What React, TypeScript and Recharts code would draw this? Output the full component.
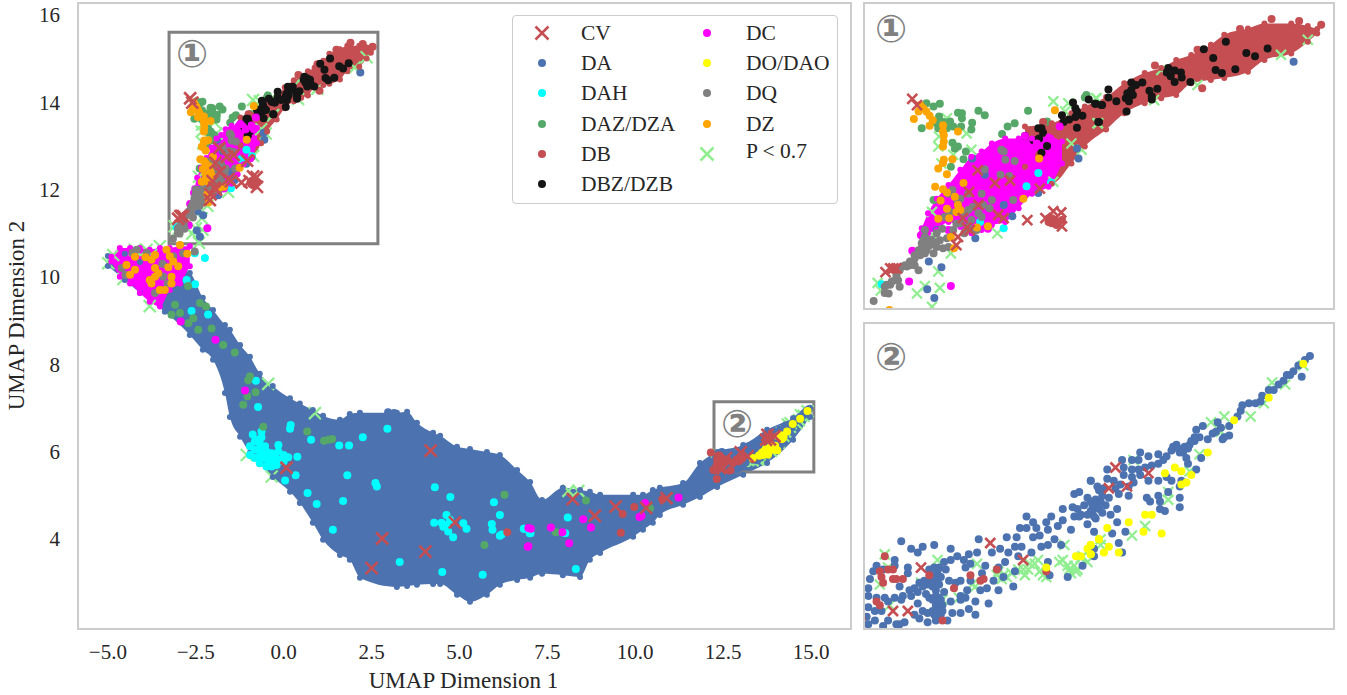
import * as React from 'react'
import { Area, ComposedChart, ReferenceArea, Scatter, XAxis, YAxis } from 'recharts'

type Pt = [number, number]
type Band = [number, number, number]

const xTicks = [-5, -2.5, 0, 2.5, 5, 7.5, 10, 12.5, 15]
const yTicks = [4, 6, 8, 10, 12, 14, 16]

// envelope of the dense clouds: x, lower y, upper y
const daBand: Band[] = [
	[-5.0, 10.25, 10.48], [-4.52, 9.93, 10.53], [-4.09, 9.63, 10.34], [-3.38, 9.2, 10.27], [-2.67, 8.67, 10.09],
	[-2.3, 8.33, 9.52], [-2.01, 8.1, 9.24], [-1.67, 7.34, 8.9], [-1.53, 6.79, 8.79], [-1.24, 6.34, 8.44],
	[-0.96, 5.97, 8.17], [-0.68, 5.74, 7.78], [-0.31, 5.42, 7.5], [0.18, 5.08, 7.22], [0.46, 4.82, 7.1],
	[0.83, 4.37, 6.95], [1.12, 3.98, 6.82], [1.6, 3.63, 6.73], [1.88, 3.52, 6.86], [2.17, 3.11, 6.89],
	[3.22, 2.9, 6.89], [3.51, 2.92, 6.91], [3.79, 2.95, 6.66], [4.25, 2.97, 6.43], [4.45, 2.97, 6.36],
	[4.93, 2.72, 6.11], [5.3, 2.56, 6.06], [5.78, 2.72, 5.99], [6.15, 2.95, 5.92], [6.64, 3.06, 5.58],
	[7.01, 3.11, 5.3], [7.35, 3.2, 4.89], [7.94, 3.17, 5.17], [8.43, 3.13, 5.12], [8.71, 3.52, 5.08],
	[9.0, 3.68, 5.01], [9.94, 4.05, 5.01], [10.22, 4.21, 5.01], [10.5, 4.37, 5.12], [10.7, 4.55, 5.17],
	[11.36, 4.78, 5.28], [11.84, 4.96, 5.74], [12.33, 5.19, 5.99], [13.07, 5.47, 6.15], [13.75, 5.74, 6.5],
	[14.49, 6.27, 6.77], [14.97, 6.79, 7.0],
]
const dbBand: Band[] = [
	[-1.23, 13.01, 13.65], [-0.89, 12.74, 13.7], [-0.64, 13.06, 13.86], [-0.47, 13.33, 13.97], [-0.2, 13.6, 14.12],
	[0.03, 13.86, 14.34], [0.29, 14.02, 14.5], [0.5, 14.1, 14.58], [0.69, 14.15, 14.71], [0.88, 14.34, 14.79],
	[1.13, 14.39, 14.95], [1.3, 14.42, 15.11], [1.6, 14.52, 15.21], [1.81, 14.71, 15.29], [2.15, 14.81, 15.29],
	[2.36, 15.0, 15.25], [2.48, 15.13, 15.2],
]
const dcBand: Band[] = [
	[-4.9, 10.35, 10.46], [-4.66, 10.0, 10.66], [-4.37, 9.85, 10.66], [-4.09, 9.63, 10.66], [-3.81, 9.43, 10.62],
	[-3.52, 9.32, 10.66], [-3.24, 9.7, 10.66], [-2.95, 9.85, 10.7], [-2.67, 10.24, 10.7],
]
const dcUpperBand: Band[] = [
	[-2.54, 11.95, 12.03], [-2.46, 11.95, 12.27], [-2.35, 12.0, 12.5], [-2.2, 12.13, 12.72], [-2.05, 12.05, 12.96],
	[-1.91, 11.95, 13.17], [-1.78, 12.0, 13.25], [-1.65, 12.08, 13.38], [-1.48, 12.13, 13.46], [-1.31, 12.35, 13.46],
	[-1.14, 12.58, 13.46], [-0.93, 12.69, 13.49], [-0.76, 13.06, 13.41],
]

const cv: Pt[] = [
	[4.18, 6.02], [0.08, 5.63], [2.8, 4.01], [4.03, 3.71], [2.5, 3.33], [4.87, 4.38], [8.22, 4.91], [8.85, 4.53],
	[9.44, 4.74], [10.31, 4.71], [10.89, 4.93], [13.0, 5.98], [12.58, 5.85], [13.2, 5.89], [12.41, 5.62], [12.5, 5.62],
	[13.76, 6.38], [13.96, 6.35], [13.72, 6.27], [13.83, 6.28], [-2.66, 14.09], [-2.6, 13.99], [-2.9, 11.39],
	[-2.94, 11.39], [-2.86, 11.39], [-1.83, 12.95], [-1.61, 12.75], [-1.42, 12.79], [-1.94, 12.61], [-1.82, 12.4],
	[-1.57, 12.24], [-1.5, 12.19], [-2.02, 12.19], [-1.97, 12.04], [-2.08, 11.89], [-2.1, 11.76], [-1.93, 12.0],
	[-1.2, 12.16], [-0.97, 12.19], [-0.77, 12.28], [-0.76, 12.06], [-1.04, 12.66], [-3.0, 11.33], [-0.87, 12.3],
]
const da: Pt[] = [
	[12.46, 5.99], [12.52, 5.95], [12.56, 5.93], [12.59, 5.96], [12.66, 5.97], [12.76, 5.95], [12.87, 5.92], [12.92, 5.93],
	[12.93, 6.0], [13.1, 6.01], [13.16, 6.01], [13.06, 5.95], [13.01, 5.93], [13.15, 5.96], [13.19, 5.96], [13.11, 5.93],
	[13.17, 5.91], [13.25, 5.93], [13.31, 5.96], [13.35, 5.97], [13.26, 6.01], [13.18, 6.06], [13.22, 6.06], [13.22, 6.12],
	[13.26, 6.09], [13.28, 6.06], [13.3, 6.02], [13.34, 6.09], [13.37, 6.12], [13.35, 6.05], [13.39, 6.0], [13.43, 5.97],
	[13.41, 6.07], [13.44, 6.1], [13.44, 6.16], [13.49, 6.05], [13.5, 6.17], [13.51, 6.24], [13.54, 6.25], [13.61, 6.31],
	[13.55, 6.13], [13.59, 6.08], [13.61, 6.15], [13.64, 6.11], [13.59, 6.22], [13.63, 6.2], [13.66, 6.26], [13.51, 6.12],
	[13.57, 6.18], [13.66, 6.16], [13.47, 5.8], [13.56, 5.86], [13.35, 5.88], [13.36, 5.81], [13.14, 5.75], [13.08, 5.8],
	[13.15, 5.83], [13.02, 5.78], [13.05, 5.73], [13.09, 5.88], [13.05, 5.85], [12.97, 5.86], [12.95, 5.82], [12.26, 5.74],
	[12.27, 5.79], [12.31, 5.86], [12.29, 5.83], [12.35, 5.84], [12.42, 5.89], [12.42, 5.86], [12.5, 5.85], [12.5, 5.82],
	[12.45, 5.75], [12.51, 5.73], [12.54, 5.74], [12.57, 5.77], [12.6, 5.78], [12.63, 5.84], [12.66, 5.85], [12.69, 5.85],
	[12.64, 5.78], [12.67, 5.78], [12.7, 5.8], [12.73, 5.84], [12.72, 5.88], [12.76, 5.89], [12.8, 5.91], [12.84, 5.89],
	[12.85, 5.85], [12.88, 5.87], [12.82, 5.78], [12.79, 5.77], [12.88, 5.78], [12.86, 5.73], [12.82, 5.7], [12.94, 5.73],
	[12.98, 5.74], [12.91, 5.67], [12.99, 5.66], [12.87, 5.63], [12.91, 5.6], [12.85, 5.69], [12.77, 5.61], [12.82, 5.61],
	[12.74, 5.57], [12.67, 5.57], [12.62, 5.61], [12.59, 5.62], [12.56, 5.66], [12.63, 5.69], [12.67, 5.73], [12.69, 5.69],
	[12.72, 5.72], [12.71, 5.65], [12.67, 5.65], [12.65, 5.62], [12.7, 5.6], [12.62, 5.56], [12.57, 5.58], [12.54, 5.6],
	[12.48, 5.56], [12.45, 5.55], [12.43, 5.55], [12.38, 5.57], [12.34, 5.62], [12.3, 5.62], [12.26, 5.64], [12.25, 5.59],
	[12.26, 5.55], [12.3, 5.57], [12.35, 5.54], [12.36, 5.69], [12.31, 5.69], [12.26, 5.7], [12.38, 5.67], [12.42, 5.69],
	[12.47, 5.7], [12.46, 5.68], [12.52, 5.7], [12.56, 5.72], [12.61, 5.71], [12.65, 5.75], [12.75, 5.78], [12.76, 5.67],
	[12.82, 5.68], [14.94, 6.97], [14.91, 6.95], [14.87, 6.92], [14.84, 6.89], [14.82, 6.87], [14.8, 6.87], [14.78, 6.84],
	[14.75, 6.82], [14.72, 6.79], [14.69, 6.79], [14.89, 6.86], [14.65, 6.76], [14.64, 6.73], [14.61, 6.72], [14.57, 6.72],
	[14.53, 6.71], [14.52, 6.68], [14.5, 6.65], [14.45, 6.6], [14.45, 6.55], [14.42, 6.54], [14.41, 6.53], [14.4, 6.59],
	[14.38, 6.62], [14.37, 6.57], [14.35, 6.56], [14.32, 6.53], [14.29, 6.6], [14.25, 6.58], [14.27, 6.54], [14.24, 6.52],
	[14.21, 6.5], [14.18, 6.49], [14.13, 6.5], [14.15, 6.46], [14.1, 6.47], [14.07, 6.44], [14.28, 6.43], [14.19, 6.43],
	[14.02, 6.45], [14.05, 6.42], [14.02, 6.4], [13.96, 6.44], [13.91, 6.46], [13.98, 6.39], [13.94, 6.38], [13.9, 6.37],
	[13.9, 6.42], [13.86, 6.42], [13.8, 6.42], [13.81, 6.38], [13.86, 6.37], [13.71, 6.37], [13.86, 6.33], [13.81, 6.34],
	[13.91, 6.34], [13.96, 6.31], [13.71, 6.32], [13.75, 6.31], [13.79, 6.29], [13.87, 6.3], [13.84, 6.28], [13.84, 6.23],
	[13.76, 6.27], [13.78, 6.24], [13.65, 6.28], [13.69, 6.27], [13.72, 6.22], [13.68, 6.23], [13.64, 6.21], [13.61, 6.2],
	[13.65, 6.18], [13.62, 6.15], [13.68, 6.14], [13.73, 6.13], [13.77, 6.16], [13.61, 6.31], [13.63, 6.12], [14.02, 6.31],
	[14.1, 6.31], [14.07, 6.33], [14.16, 6.31], [14.15, 6.28], [14.25, 6.37], [14.2, 6.4], [14.08, 6.25], [14.15, 6.22],
	[14.15, 6.17], [14.02, 6.23], [13.95, 6.22], [13.97, 6.2], [14.03, 6.2], [14.03, 6.16], [14.06, 6.15], [13.77, 6.09],
	[13.63, 6.04], [13.74, 6.03], [13.82, 6.04], [13.78, 5.98], [13.8, 5.93], [13.63, 5.95], [13.63, 5.91], [-1.9, 13.14],
	[-0.57, 13.3], [-2.29, 11.41], [-2.47, 11.06], [-2.38, 10.92], [-1.39, 12.22], [-1.06, 12.59], [-0.55, 13.14],
	[-1.5, 12.4], [-1.74, 12.88], [-1.86, 11.87], [-2.35, 12.0], [2.18, 14.68], [-2.45, 11.5], [2.97, 6.9], [3.14, 6.88],
	[12.65, 5.81], [12.68, 5.83], [12.69, 5.8], [12.66, 5.77], [12.69, 5.76], [12.62, 5.76], [12.59, 5.75], [12.67, 5.7],
	[12.65, 5.68], [12.68, 5.67], [12.7, 5.68], [12.69, 5.63], [12.71, 5.62], [12.66, 5.6], [13.53, 6.16], [13.54, 6.12],
	[13.59, 6.13], [13.62, 6.18], [13.65, 6.2], [14.11, 6.49], [14.14, 6.48], [14.17, 6.46], [14.2, 6.48], [14.22, 6.52],
	[14.24, 6.54], [13.67, 6.2], [13.7, 6.18],
]
const dah: Pt[] = [
	[-0.79, 7.62], [-0.73, 7.02], [-0.88, 6.39], [-0.63, 6.46], [0.2, 6.61], [0.18, 6.52], [0.78, 6.27], [1.58, 6.14],
	[1.86, 6.14], [2.25, 6.33], [2.95, 6.52], [0.39, 5.88], [0.34, 5.46], [0.04, 5.34], [1.81, 5.46], [2.61, 5.28],
	[2.65, 5.2], [0.68, 5.05], [0.94, 4.8], [1.69, 4.87], [1.4, 4.21], [4.3, 5.18], [4.74, 4.96], [5.98, 4.84],
	[6.15, 4.55], [5.92, 4.34], [5.94, 4.21], [6.15, 4.07], [3.3, 3.47], [4.51, 3.24], [5.66, 3.18], [6.83, 4.23],
	[7.0, 4.13], [4.63, 4.55], [4.28, 4.37], [4.49, 4.37], [4.63, 4.32], [4.54, 4.28], [4.68, 4.17], [4.82, 4.04],
	[5.11, 4.36], [5.2, 4.23], [4.73, 4.44], [-0.96, 6.12], [-0.82, 6.23], [-0.68, 6.19], [-0.53, 6.12], [-0.82, 6.04],
	[-0.68, 6.04], [-0.49, 6.0], [-0.34, 5.96], [-0.15, 6.15], [-0.15, 6.0], [0.0, 5.92], [0.13, 5.87], [-0.96, 5.92],
	[-0.82, 5.85], [-0.68, 5.89], [-0.53, 5.85], [-0.34, 5.81], [-0.15, 5.81], [0.0, 5.77], [-0.68, 5.73], [-0.49, 5.66],
	[-0.34, 5.66], [-0.2, 5.69], [-0.72, 6.27], [-0.63, 6.33], [-0.49, 5.89], [-0.25, 5.89], [-0.58, 5.96], [-0.44, 5.77],
	[-2.52, 9.83], [-2.15, 9.14], [-2.62, 9.22], [-2.24, 10.43], [-2.53, 10.54], [-2.76, 9.93], [8.08, 4.49], [8.31, 3.31],
	[6.84, 4.23], [7.02, 4.13], [8.01, 4.13], [6.2, 4.1], [-1.5, 12.03], [-1.8, 12.13], [-0.9, 12.76], [-1.21, 12.7],
	[-1.06, 12.91], [-3.05, 11.14],
]
const daz: Pt[] = [
	[-2.48, 14.02], [-2.39, 13.97], [-2.31, 14.01], [-2.08, 13.87], [-2.03, 13.86], [-2.03, 13.78], [-1.82, 13.9],
	[-1.74, 13.83], [-1.9, 13.71], [-1.91, 13.6], [-2.04, 13.65], [-2.32, 13.81], [-2.35, 13.7], [-2.26, 13.72],
	[-2.18, 13.73], [-2.33, 13.62], [-2.22, 13.62], [-2.14, 13.65], [-2.54, 13.62], [-1.36, 13.7], [-1.45, 13.65],
	[-1.52, 13.53], [-1.19, 13.9], [-0.95, 13.73], [-0.47, 14.11], [-0.45, 14.15], [-2.15, 13.39], [-2.08, 13.33],
	[-2.12, 13.3], [-1.98, 13.25], [-2.01, 13.13], [-2.17, 13.01], [-2.39, 12.48], [-2.72, 9.79], [-3.09, 9.36],
	[-3.19, 9.13], [-2.95, 9.17], [-2.57, 9.05], [-2.71, 8.94], [-2.43, 8.79], [-2.05, 8.82], [-1.72, 8.44], [-2.38, 9.4],
	[-2.21, 9.32], [-1.39, 8.27], [-0.96, 7.72], [-1.01, 7.63], [-0.8, 7.36], [-1.03, 7.26], [-1.15, 7.07], [-0.58, 6.57],
	[0.67, 6.46], [1.15, 6.25], [1.27, 6.27], [1.38, 6.29], [6.28, 5.01], [5.71, 3.86], [8.6, 4.88], [7.74, 4.15],
	[10.42, 4.7],
]
const db: Pt[] = [
	[12.36, 5.91], [12.33, 5.83], [12.34, 5.8], [12.35, 5.77], [12.38, 5.84], [12.41, 5.84], [12.41, 5.79], [12.43, 5.79],
	[12.47, 5.79], [12.63, 5.81], [12.88, 5.81], [12.78, 5.74], [12.94, 5.78], [12.96, 5.79], [13.04, 5.84], [12.31, 5.67],
	[12.33, 5.65], [12.71, 5.57], [13.34, 5.83], [12.15, 5.98], [12.22, 5.58], [12.32, 5.37], [9.64, 4.57], [9.97, 4.73],
	[9.59, 4.14], [10.77, 4.91], [6.36, 4.15], [-0.93, 12.19], [-0.89, 12.19], [-0.85, 12.16], [-0.81, 12.13],
	[-0.89, 12.11], [-0.83, 12.08], [-0.93, 12.13], [-0.76, 12.16], [2.53, 15.27], [1.02, 14.26], [0.96, 14.87],
	[0.42, 14.62], [1.5, 15.2], [1.9, 15.36], [2.25, 15.33], [-1.05, 13.2], [-1.0, 13.72],
]
const dbz: Pt[] = [
	[1.04, 14.88], [1.32, 15.0], [1.16, 14.74], [1.58, 14.82], [1.69, 14.77], [1.85, 14.89], [1.19, 14.55], [1.27, 14.5],
	[1.44, 14.56], [0.59, 14.58], [0.57, 14.51], [0.67, 14.54], [0.75, 14.51], [0.76, 14.43], [0.62, 14.45], [0.67, 14.36],
	[0.87, 14.36], [0.12, 14.35], [0.26, 14.35], [0.18, 14.31], [0.35, 14.22], [0.45, 14.25], [0.38, 14.13], [0.38, 14.08],
	[0.12, 14.23], [0.07, 14.18], [0.14, 14.15], [0.05, 14.1], [0.09, 14.05], [-0.17, 14.11], [-0.17, 14.24], [-0.07, 14.05],
	[0.06, 13.89], [-0.25, 13.99], [-0.34, 14.01], [-0.29, 13.72], [-0.62, 14.03], [-0.59, 13.94], [-0.57, 13.89],
	[-0.76, 13.83], [-0.74, 13.72], [-0.67, 13.76], [-0.59, 13.8], [-0.5, 13.82], [-0.57, 13.63], [-0.42, 14.08],
	[-0.33, 14.01], [-0.26, 13.99], [-0.3, 13.72], [-1.06, 13.62], [-1.02, 13.62], [-1.0, 13.55], [-1.05, 13.46],
	[-1.12, 13.43], [-0.95, 13.34], [-1.02, 13.23], [-1.23, 13.5],
]
const dc: Pt[] = [
	[-2.66, 11.67], [-2.7, 11.18], [-2.17, 11.11], [-0.79, 13.65], [-1.23, 13.5], [-1.08, 13.38], [-0.91, 13.46],
	[-0.85, 13.38], [-2.93, 8.98], [-1.94, 8.56], [-1.1, 7.4], [6.96, 3.83], [6.96, 4.25], [7.03, 4.23], [7.6, 4.26],
	[7.93, 4.15], [8.12, 3.9], [6.94, 3.82], [8.52, 4.45], [8.74, 4.26], [10.12, 4.5], [10.18, 4.53], [10.28, 4.82],
	[11.23, 4.95], [-2.55, 11.92], [-2.2, 12.0], [-1.7, 12.02],
]
const dao: Pt[] = [
	[13.34, 5.85], [13.52, 5.91], [13.55, 5.91], [13.59, 5.95], [13.61, 5.97], [13.61, 5.92], [13.66, 6.0], [14.9, 6.93],
	[14.69, 6.75], [14.48, 6.63], [14.32, 6.46], [14.12, 6.38], [14.16, 6.36], [14.06, 6.35], [14.22, 6.34], [14.19, 6.3],
	[14.16, 6.29], [13.98, 6.13], [13.94, 6.13], [13.84, 6.09], [13.71, 6.06], [13.93, 6.04], [14.04, 6.03], [13.66, 6.0],
	[13.72, 5.96], [13.69, 5.93], [13.78, 5.93], [13.61, 5.97], [13.61, 5.92],
]
const dq: Pt[] = [
	[-3.15, 10.87], [-3.01, 11.1], [-2.96, 10.99], [-2.94, 11.13], [-2.88, 11.2], [-2.82, 11.1], [-2.79, 11.42],
	[-2.73, 11.42], [-2.69, 11.44], [-2.63, 11.55], [-2.56, 11.6], [-2.54, 11.71], [-2.5, 11.63], [-2.52, 11.84],
	[-2.48, 11.79], [-2.5, 12.0], [-2.39, 11.63], [-2.35, 11.73], [-2.27, 11.71], [-2.58, 11.36], [-2.18, 11.89],
	[-1.95, 12.05], [-1.84, 12.0], [-1.78, 12.21], [-1.95, 12.32], [-1.89, 12.37], [-1.68, 12.35], [-2.05, 12.5],
	[-2.15, 12.64], [-2.25, 12.21], [-2.18, 12.29], [-1.38, 12.48], [-1.54, 12.88], [-1.43, 12.86], [-1.48, 13.12],
	[-1.36, 13.1], [-1.5, 13.25], [-1.74, 12.97], [-1.53, 13.28], [-4.18, 10.62], [-4.61, 10.2], [-2.86, 10.54],
	[-2.53, 10.58], [-3.43, 10.01], [-3.66, 9.63], [-3.52, 9.7], [-3.14, 10.47], [-2.42, 11.85], [-2.35, 11.95],
	[-2.1, 12.1], [-2.0, 11.95], [-2.28, 12.02], [-2.45, 11.75], [-2.985, 11.13], [-2.92, 11.18], [-2.86, 11.28],
	[-2.82, 11.36], [-2.75, 11.44], [-2.69, 11.5], [-2.63, 11.6], [-2.58, 11.68], [-2.54, 11.79], [-2.5, 11.89],
	[-2.48, 11.68], [-2.44, 11.76], [-2.39, 11.81], [-2.31, 11.84], [-2.22, 11.87], [-2.14, 12.0], [-2.05, 12.11],
	[-1.99, 12.27], [-1.91, 12.16], [-1.82, 12.27], [-1.76, 12.4], [-1.99, 11.97], [-1.86, 12.0], [-2.2, 11.73],
	[-2.63, 11.44], [-2.84, 11.2], [-3.01, 11.0], [-2.09, 12.48], [-2.2, 12.58], [-1.95, 12.58], [-1.78, 12.58],
	[-1.65, 12.48], [-4.3, 10.55], [-3.9, 10.55], [-4.5, 10.05], [-3.3, 9.85], [-3.45, 10.3],
]
const dz: Pt[] = [
	[-2.58, 13.89], [-2.56, 13.99], [-2.52, 13.94], [-2.48, 13.89], [-2.44, 13.82], [-2.4, 13.75], [-2.64, 13.77],
	[-2.44, 13.66], [-2.27, 13.67], [-2.27, 13.57], [-2.26, 13.51], [-2.08, 13.57], [-2.26, 13.41], [-2.27, 13.33],
	[-0.85, 13.91], [-1.05, 13.14], [-2.26, 13.12], [-2.27, 13.07], [-2.15, 13.13], [-2.33, 12.98], [-2.22, 12.89],
	[-2.37, 12.69], [-2.27, 12.65], [-2.22, 12.6], [-2.01, 12.75], [-2.12, 12.53], [-2.3, 12.47], [-2.08, 12.4],
	[-2.22, 12.34], [-2.05, 12.32], [-2.1, 12.29], [-2.33, 12.18], [-2.19, 12.19], [-1.84, 12.04], [-1.7, 12.06],
	[-2.17, 11.89], [-2.13, 11.71], [-1.25, 12.5], [-4.23, 10.46], [-4.47, 10.27], [-4.37, 10.05], [-4.23, 10.16],
	[-3.93, 10.45], [-3.76, 10.39], [-3.66, 10.5], [-3.66, 10.2], [-3.57, 10.08], [-3.66, 10.0], [-3.81, 9.93],
	[-3.76, 9.85], [-3.52, 9.7], [-3.38, 9.7], [-3.33, 10.62], [-3.24, 10.47], [-3.14, 10.35], [-3.28, 10.22],
	[-3.0, 10.24], [-3.19, 10.0], [-3.19, 9.85], [-2.74, 10.53], [-2.95, 10.73],
]
const lowP: Pt[] = [
	[12.36, 5.92], [12.38, 5.85], [12.33, 5.76], [12.58, 5.77], [12.68, 5.89], [12.92, 5.87], [12.91, 5.75], [13.04, 5.81],
	[13.08, 5.81], [13.1, 5.8], [13.2, 5.84], [13.21, 5.81], [13.27, 5.87], [13.32, 5.81], [13.42, 5.88], [13.45, 5.97],
	[13.48, 5.84], [13.51, 5.86], [13.55, 5.9], [13.52, 5.83], [12.81, 5.69], [12.39, 5.65], [12.71, 5.68], [14.34, 6.62],
	[14.42, 6.65], [14.58, 6.65], [14.21, 6.36], [14.27, 6.45], [14.4, 6.57], [14.08, 6.21], [14.08, 6.25], [13.94, 6.07],
	[13.86, 6.02], [13.67, 5.97], [13.67, 6.0], [13.87, 6.42], [14.66, 6.72], [14.79, 6.82], [14.9, 6.92], [14.71, 6.83],
	[13.05, 5.83], [13.07, 5.79], [13.13, 5.82], [13.17, 5.84], [13.23, 5.84], [13.24, 5.87], [13.29, 5.89], [13.3, 5.83],
	[13.34, 5.8], [13.44, 5.89], [13.47, 5.86], [13.49, 5.82], [13.53, 5.84], [13.56, 5.91], [13.59, 5.88], [12.89, 5.76],
	[-0.87, 14.05], [-0.68, 14.02], [-0.72, 13.89], [-0.32, 14.1], [-0.3, 13.7], [-1.97, 13.54], [-1.91, 13.28],
	[-2.14, 13.2], [-2.32, 13.49], [-2.22, 13.78], [-2.33, 13.33], [-0.64, 13.38], [-3.1, 11.16], [-3.06, 11.04],
	[-2.6, 10.99], [-2.5, 11.11], [-2.31, 11.08], [-2.33, 11.34], [-2.41, 10.78], [-1.58, 11.95], [-2.17, 11.63],
	[-2.29, 13.06], [-2.41, 12.29], [-2.37, 11.89], [-0.87, 12.77], [-0.51, 13.28], [-0.33, 14.1], [-0.31, 13.7],
	[0.41, 14.07], [0.96, 14.31], [0.5, 14.55], [2.36, 15.03], [2.02, 14.79], [-4.85, 10.5], [-4.23, 10.62], [-3.9, 10.62],
	[-4.56, 9.95], [-3.81, 9.33], [-4.99, 10.31], [-3.52, 10.7], [0.89, 6.88], [-0.44, 7.55], [-0.34, 5.43], [-1.05, 5.92],
	[8.1, 5.1], [8.38, 5.1],
]

const legendLeft = ['CV', 'DA', 'DAH', 'DAZ/DZA', 'DB', 'DBZ/DZB']
const legendRight = ['DC', 'DO/DAO', 'DQ', 'DZ', 'P < 0.7']

const colors: Record<string, string> = {
	CV: '#C44E52',
	DA: '#4C72B0',
	DAH: '#00FFFF',
	'DAZ/DZA': '#55A868',
	DB: '#C44E52',
	'DBZ/DZB': '#151515',
	DC: '#FF00FF',
	'DO/DAO': '#FFFF00',
	DQ: '#808080',
	DZ: '#FFA500',
	'P < 0.7': '#90EE90',
}

const pts = (list: Pt[]) => list.map(([x, y]) => ({ x, y }))
const edges = (list: Band[]) => pts(list.flatMap(([x, low, high]) => [[x, low], [x, high]] as Pt[]))
const rows = (key: string, list: Band[]) => list.map(([x, low, high]) => ({ x, key, low, high }))

const dot = (fill: string, r: number) => (p: any) => <circle cx={p.cx} cy={p.cy} r={r} fill={fill} />
const cross = (stroke: string, half: number, w: number) => (p: any) => (
	<path
		d={`M${p.cx - half},${p.cy - half}L${p.cx + half},${p.cy + half}M${p.cx - half},${p.cy + half}L${p.cx + half},${p.cy - half}`}
		stroke={stroke}
		strokeWidth={w}
		fill="none"
	/>
)

const band = (key: string, color: string) => (
	<Area
		key={key}
		dataKey={(r: any) => (r.key === key ? [r.low, r.high] : undefined)}
		type="monotoneX"
		stroke="none"
		fill={color}
		fillOpacity={1}
		dot={false}
		activeDot={false}
		isAnimationActive={false}
	/>
)

const font = '"Liberation Serif", serif'
const ink = '#262626'

const series = (r: number, half: number, w: number, main: boolean) => {
	const s = (key: string, data: object[], color: string, size = r) => (
		<Scatter key={key} data={data} shape={dot(color, size)} isAnimationActive={false} />
	)
	return [
		<Scatter key="low" data={pts(lowP)} shape={cross(colors['P < 0.7'], half, w)} isAnimationActive={false} />,
		main ? band('da', colors.DA) : null,
		main ? s('daEdge', edges(daBand), colors.DA, 3) : null,
		s('da', pts(da), colors.DA),
		s('dah', pts(dah), colors.DAH),
		s('daz', pts(daz), colors['DAZ/DZA']),
		band('db', colors.DB),
		s('dbEdge', edges(dbBand), colors.DB, r - 1),
		s('db', pts(db), colors.DB),
		s('dbz', pts(dbz), colors['DBZ/DZB']),
		band('dc', colors.DC),
		band('dcUpper', colors.DC),
		s('dcEdge', edges([...dcBand, ...dcUpperBand]), colors.DC, r - 1),
		s('dc', pts(dc), colors.DC),
		s('dao', pts(dao), colors['DO/DAO']),
		s('dq', pts(dq), colors.DQ),
		s('dz', pts(dz), colors.DZ),
		<Scatter key="cv" data={pts(cv)} shape={cross(colors.CV, half, w + 0.4)} isAnimationActive={false} />,
	]
}

const chartRows = (main: boolean) => [
	...(main ? rows('da', daBand) : []),
	...rows('db', dbBand),
	...rows('dc', dcBand),
	...rows('dcUpper', dcUpperBand),
]

const Badge = ({ left, top, text }: { left: number; top: number; text: string }) => (
	<div
		style={{
			position: 'absolute',
			left: left - 24,
			top: top - 24,
			width: 48,
			height: 48,
			lineHeight: '48px',
			textAlign: 'center',
			fontFamily: '"DejaVu Sans"',
			fontWeight: 'bold',
			fontSize: 38,
			color: '#808080',
		}}
	>
		{text}
	</div>
)

const Inset = ({ top, height, xDomain, yDomain, r, half, w }: any) => (
	<div
		style={{
			position: 'absolute',
			left: 863,
			top,
			width: 468,
			height,
			border: '2.5px solid #cccccc',
			overflow: 'hidden',
		}}
	>
		<ComposedChart width={468} height={height} data={chartRows(false)} margin={{ top: 0, right: 0, bottom: 0, left: 0 }}>
			<XAxis dataKey="x" type="number" domain={xDomain} allowDataOverflow hide />
			<YAxis dataKey="y" type="number" domain={yDomain} allowDataOverflow hide />
			{series(r, half, w, false)}
		</ComposedChart>
	</div>
)

const LegendMark = ({ name }: { name: string }) => {
	const c = colors[name]
	return (
		<svg width={20} height={20} style={{ display: 'block' }}>
			{name === 'CV' || name === 'P < 0.7' ? (
				<path d="M3.5,3.5L16.5,16.5M3.5,16.5L16.5,3.5" stroke={c} strokeWidth={2.5} fill="none" />
			) : (
				<circle cx={10} cy={10} r={4} fill={c} />
			)}
		</svg>
	)
}

const LegendCol = ({ names, left }: { names: string[]; left: number }) => (
	<>
		{names.map((name, i) => (
			<React.Fragment key={name}>
				<div style={{ position: 'absolute', left: left - 10, top: 23 + i * 30.2 }}>
					<LegendMark name={name} />
				</div>
				<div
					style={{
						position: 'absolute',
						left: left + 39,
						top: 19 + i * 30.2 - (name === 'P < 0.7' ? 3 : 0),
						fontFamily: font,
						fontSize: 21.5,
						lineHeight: '28px',
						color: ink,
						whiteSpace: 'nowrap',
					}}
				>
					{name}
				</div>
			</React.Fragment>
		))}
	</>
)

export default function App() {
	return (
		<div style={{ position: 'absolute', left: 0, top: 0, width: 1347, height: 695, background: '#fff' }}>
			<ComposedChart width={849} height={695} data={chartRows(true)} margin={{ top: 3, right: 0, bottom: 0, left: 0 }}>
				<XAxis
					dataKey="x"
					type="number"
					domain={[-5.85, 16.08]}
					ticks={xTicks}
					allowDataOverflow
					height={67}
					axisLine={false}
					tickLine={false}
					tickMargin={10}
					tick={{ fontFamily: font, fontSize: 21, fill: ink }}
					tickFormatter={(v: number) => v.toFixed(1).replace('-', '\u2212')}
					label={{ value: 'UMAP Dimension 1', position: 'insideBottom', offset: 7, style: { fontFamily: font, fontSize: 23, fill: ink } }}
				/>
				<YAxis
					dataKey="y"
					type="number"
					domain={[1.96, 16.27]}
					ticks={yTicks}
					allowDataOverflow
					width={78}
					axisLine={false}
					tickLine={false}
					tickMargin={12}
					tick={{ fontFamily: font, fontSize: 21, fill: ink }}
					label={{ value: 'UMAP Dimension 2', angle: -90, position: 'insideLeft', offset: 16, style: { textAnchor: 'middle', fontFamily: font, fontSize: 23, fill: ink } }}
				/>
				{series(4, 6, 2.2, true)}
				<ReferenceArea x1={-3.26} x2={2.68} y1={10.76} y2={15.6} stroke="#808080" strokeWidth={3} fill="none" fillOpacity={0} />
				<ReferenceArea x1={12.24} x2={15.08} y1={5.53} y2={7.14} stroke="#808080" strokeWidth={3} fill="none" fillOpacity={0} />
			</ComposedChart>
			<div style={{ position: 'absolute', left: 77, top: 2, width: 771, height: 624, border: '2.5px solid #cccccc' }} />
			<div style={{ position: 'absolute', left: 512, top: 15, width: 324, height: 187, border: '1.5px solid #cccccc', borderRadius: 4, background: '#fff' }} />
			<LegendCol names={legendLeft} left={542} />
			<LegendCol names={legendRight} left={707} />
			<Badge left={192} top={54} text="①" />
			<Badge left={737} top={424} text="②" />
			<Inset top={2} height={304} xDomain={[-3.26, 2.68]} yDomain={[10.76, 15.6]} r={4} half={5} w={2.2} />
			<Inset top={322} height={304} xDomain={[12.24, 15.08]} yDomain={[5.53, 7.14]} r={4} half={5} w={2.2} />
			<Badge left={891} top={29} text="①" />
			<Badge left={891} top={357} text="②" />
		</div>
	)
}
